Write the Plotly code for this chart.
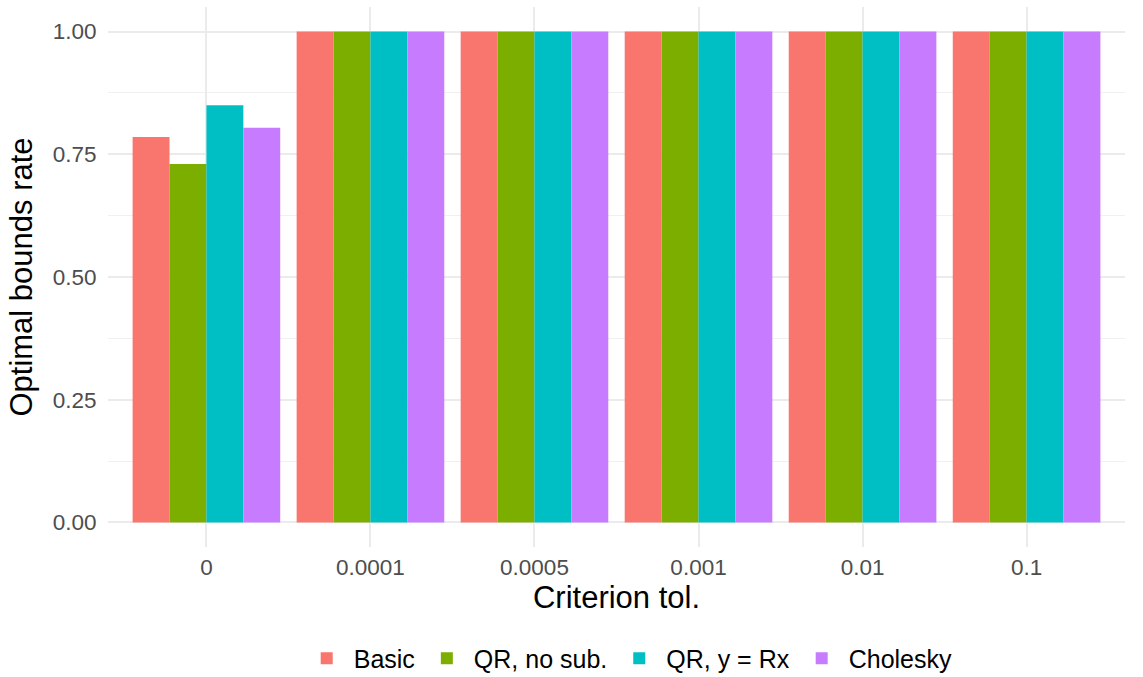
import plotly.graph_objects as go

categories = ["0", "0.0001", "0.0005", "0.001", "0.01", "0.1"]
series_names = ["Basic", "QR, no sub.", "QR, y = Rx", "Cholesky"]
basic = [0.785, 1.0, 1.0, 1.0, 1.0, 1.0]
qr_no_sub = [0.730, 1.0, 1.0, 1.0, 1.0, 1.0]
qr_y_rx = [0.850, 1.0, 1.0, 1.0, 1.0, 1.0]
cholesky = [0.804, 1.0, 1.0, 1.0, 1.0, 1.0]
colors = ["#F8766D", "#7CAE00", "#00BFC4", "#C77CFF"]
y_tickvals = [0, 0.25, 0.5, 0.75, 1.0]
y_ticktext = ["0.00", "0.25", "0.50", "0.75", "1.00"]

FONT = "Liberation Sans, Arial, sans-serif"

fig = go.Figure()
for name, vals, col in zip(series_names, [basic, qr_no_sub, qr_y_rx, cholesky], colors):
    fig.add_trace(go.Bar(x=categories, y=vals, name=name, marker=dict(color=col, line=dict(width=0))))

fig.update_layout(
    width=1143, height=677,
    margin=dict(l=108, r=18, t=7, b=130, autoexpand=False),
    paper_bgcolor="white", plot_bgcolor="white",
    barmode="group", bargap=0.1, bargroupgap=0,
    font=dict(family=FONT, color="black"),
    legend=dict(orientation="h", x=0.512, xanchor="center", y=-0.2065, yanchor="middle",
                font=dict(size=25, color="black"), itemwidth=44, traceorder="normal"),
)
fig.update_xaxes(
    range=[-0.6, 5.6], showgrid=True, gridcolor="#EBEBEB", gridwidth=1.5,
    ticks="outside", ticklen=0, tickcolor="rgba(0,0,0,0)", automargin=False,
    tickfont=dict(size=22.5, color="#4D4D4D"), zeroline=False, showline=False,
    title=dict(text="Criterion tol.", font=dict(size=31, color="black"), standoff=4),
)
fig.update_yaxes(
    range=[-0.05, 1.05], tickvals=y_tickvals, ticktext=y_ticktext,
    showgrid=True, gridcolor="#EBEBEB", gridwidth=1.5,
    minor=dict(tick0=0.125, dtick=0.25, showgrid=True, gridcolor="#F0F0F0", gridwidth=1),
    ticks="outside", ticklen=6, tickcolor="rgba(0,0,0,0)", automargin=False,
    tickfont=dict(size=22.5, color="#4D4D4D"), zeroline=False, showline=False,
    title=dict(text="Optimal bounds rate", font=dict(size=31, color="black"), standoff=10),
)
fig.write_html("out.html", config={"displayModeBar": False},
               post_script="document.body.style.margin='0px';")
